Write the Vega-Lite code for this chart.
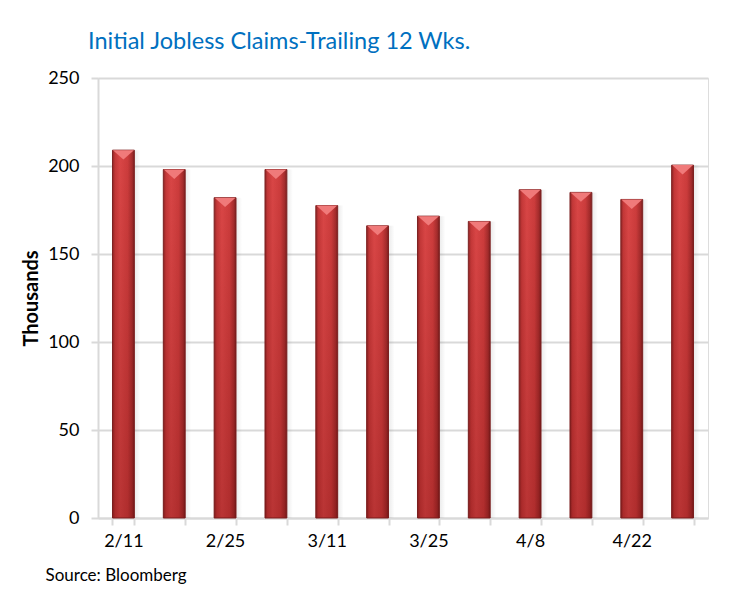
{
  "$schema": "https://vega.github.io/schema/vega-lite/v6.json",
  "width": 610,
  "height": 440,
  "autosize": {"type": "none"},
  "padding": {"left": 98, "top": 78, "right": 23, "bottom": 84},
  "background": "white",
  "title": {
    "text": "Initial Jobless Claims-Trailing 12 Wks.",
    "anchor": "start",
    "frame": "group",
    "dx": -10,
    "offset": 16,
    "font": "Lato",
    "fontSize": 23.5,
    "fontWeight": "normal",
    "color": "#0070C0"
  },
  "data": {
    "values": [
      {"week": "2/11", "claims": 209},
      {"week": "2/18", "claims": 198},
      {"week": "2/25", "claims": 182},
      {"week": "3/4", "claims": 198},
      {"week": "3/11", "claims": 177.5},
      {"week": "3/18", "claims": 166},
      {"week": "3/25", "claims": 171.5},
      {"week": "4/1", "claims": 168.5},
      {"week": "4/8", "claims": 186.5},
      {"week": "4/15", "claims": 185},
      {"week": "4/22", "claims": 181},
      {"week": "4/29", "claims": 200.5}
    ]
  },
  "encoding": {
    "x": {
      "field": "week",
      "type": "nominal",
      "sort": null,
      "scale": {"paddingInner": 0.57, "paddingOuter": 0.285},
      "axis": {
        "title": "Source: Bloomberg",
        "titleFont": "Lato",
        "titleFontSize": 17,
        "titleFontWeight": "normal",
        "titleColor": "#000000",
        "titleAnchor": "start",
        "titleAlign": "left",
        "titleBaseline": "alphabetic",
        "titleX": -53,
        "titleY": 62,
        "labelAngle": 0,
        "labelFont": "Lato",
        "labelFontSize": 18,
        "labelColor": "#000000",
        "labelPadding": 7,
        "labelExpr": "indexof(['2/11','2/25','3/11','3/25','4/8','4/22'], datum.value) >= 0 ? datum.value : ''",
        "tickBand": "extent",
        "ticks": true,
        "tickSize": 7,
        "tickColor": "#d9d9d9",
        "tickWidth": 2,
        "domainColor": "#d9d9d9",
        "domainWidth": 2,
        "grid": false
      }
    },
    "y": {
      "field": "claims",
      "type": "quantitative",
      "scale": {"domain": [0, 250], "nice": false},
      "axis": {
        "title": "Thousands",
        "titleFont": "Lato",
        "titleFontSize": 20,
        "titleFontWeight": "bold",
        "titleColor": "#000000",
        "titlePadding": 6,
        "values": [0, 50, 100, 150, 200, 250],
        "labelFont": "Lato",
        "labelFontSize": 18,
        "labelColor": "#000000",
        "labelPadding": 12,
        "tickSize": 7,
        "tickColor": "#d9d9d9",
        "tickWidth": 2,
        "domainColor": "#d9d9d9",
        "domainWidth": 2,
        "grid": true,
        "gridColor": "#d9d9d9",
        "gridWidth": 2
      }
    }
  },
  "layer": [
    {
      "mark": {
        "type": "bar",
        "xOffset": 6,
        "color": {
          "gradient": "linear",
          "x1": 0, "x2": 1, "y1": 0, "y2": 0,
          "stops": [
            {"offset": 0, "color": "rgba(0,0,0,0.35)"},
            {"offset": 0.6, "color": "rgba(0,0,0,0.12)"},
            {"offset": 1, "color": "rgba(0,0,0,0)"}
          ]
        }
      }
    },
    {
      "mark": {
        "type": "bar",
        "stroke": "#7e2222",
        "strokeWidth": 1,
        "color": {
          "gradient": "linear",
          "x1": 0, "x2": 1, "y1": 0, "y2": 0,
          "stops": [
            {"offset": 0, "color": "#8e2626"},
            {"offset": 0.12, "color": "#c43838"},
            {"offset": 0.35, "color": "#d94646"},
            {"offset": 0.7, "color": "#cc3c3c"},
            {"offset": 0.9, "color": "#a42c2c"},
            {"offset": 1, "color": "#7a1e1e"}
          ]
        }
      }
    },
    {
      "mark": {
        "type": "bar",
        "color": {
          "gradient": "linear",
          "x1": 0, "x2": 0, "y1": 0, "y2": 1,
          "stops": [
            {"offset": 0, "color": "rgba(90,0,0,0)"},
            {"offset": 1, "color": "rgba(90,0,0,0.25)"}
          ]
        }
      }
    },
    {
      "mark": {
        "type": "point",
        "shape": "M-1,0L1,0L0,0.9Z",
        "size": 440,
        "filled": true,
        "opacity": 1,
        "color": "#f07a7a"
      }
    }
  ]
}
